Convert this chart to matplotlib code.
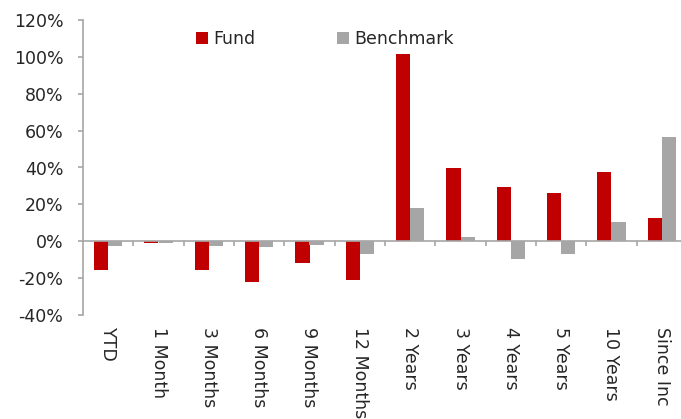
import matplotlib
matplotlib.use("Agg")
import matplotlib.pyplot as plt
import numpy as np
from matplotlib.ticker import FuncFormatter, FixedLocator

categories = ["YTD", "1 Month", "3 Months", "6 Months", "9 Months", "12 Months",
              "2 Years", "3 Years", "4 Years", "5 Years", "10 Years", "Since Inc"]
fund = [-15.8, -0.9, -15.8, -22.2, -12.0, -20.9, 101.5, 39.5, 29.6, 25.9, 37.8, 12.8]
benchmark = [-2.5, -1.2, -2.5, -3.2, -1.8, -6.8, 18.0, 2.2, -9.6, -6.7, 10.3, 56.8]
yticks = [-40, -20, 0, 20, 40, 60, 80, 100, 120]

RED = "#C00000"
GREY = "#A6A6A6"
AXC = "#A6A6A6"
TXT = "#262626"
FS = 12.5

plt.rcParams['font.family'] = ['DejaVu Sans']
W, H = 681, 419
fig = plt.figure(figsize=(W/100, H/100), dpi=100)
left, right, top, bottom = 83, 687, 20, 315
ax = fig.add_axes([left/W, 1-bottom/H, (right-left)/W, (bottom-top)/H])

x = np.arange(len(categories))
bw = 0.28
b1 = ax.bar(x - bw/2, fund, width=bw, color=RED, label="Fund")
b2 = ax.bar(x + bw/2, benchmark, width=bw, color=GREY, label="Benchmark")

ax.set_xlim(-0.5, len(categories) - 0.5)
ax.set_ylim(-40, 120)
ax.set_yticks(yticks)
ax.yaxis.set_major_formatter(FuncFormatter(lambda v, p: f"{v:.0f}%"))

for s in ["top", "right"]:
    ax.spines[s].set_visible(False)
ax.spines["left"].set_color(AXC)
ax.spines["bottom"].set_color(AXC)
ax.spines["bottom"].set_position(("data", 0))
ax.spines["left"].set_linewidth(1.2)
ax.spines["bottom"].set_linewidth(1.2)

ax.set_xticks(x)
ax.set_xticklabels(categories, rotation=270, va="top", ha="center")
ax.xaxis.set_minor_locator(FixedLocator(np.arange(0.5, len(categories) - 0.5, 1)))
ax.tick_params(axis="x", which="major", length=0, pad=62, labelsize=FS, labelcolor=TXT)
ax.tick_params(axis="x", which="minor", length=3.6, width=1.2, color=AXC, direction="out")
ax.tick_params(axis="y", length=3.6, width=1.2, color=AXC, pad=10.5, labelsize=FS, labelcolor=TXT)

common = dict(frameon=False, fontsize=FS, handlelength=0.7, handleheight=0.65,
              handletextpad=0.3, borderaxespad=0, borderpad=0, loc="center left",
              bbox_transform=fig.transFigure)
leg1 = ax.legend([b1], ["Fund"], bbox_to_anchor=(196/W, 1-39/H), **common)
ax.add_artist(leg1)
leg2 = ax.legend([b2], ["Benchmark"], bbox_to_anchor=(337/W, 1-39/H), **common)
for lg in (leg1, leg2):
    for t in lg.get_texts():
        t.set_color(TXT)

fig.savefig("out.png", dpi=100)
